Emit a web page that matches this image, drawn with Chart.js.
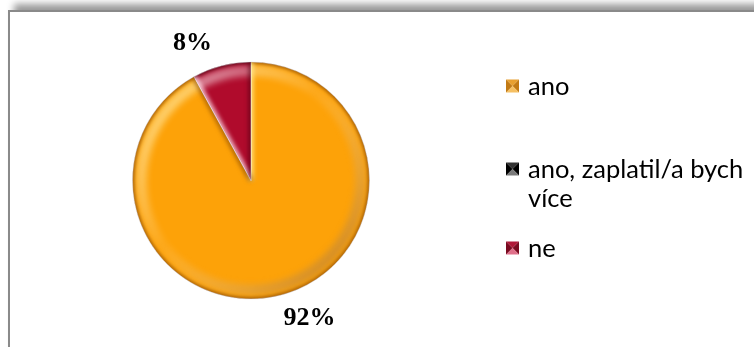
<!DOCTYPE html>
<html>
<head>
<meta charset="utf-8">
<script src="https://cdn.jsdelivr.net/npm/chart.js@4/dist/chart.umd.min.js"></script>
<style>
  html, body { margin: 0; padding: 0; background: #fff; width: 754px; height: 347px; overflow: hidden; }
  #frame {
    position: absolute; left: 8px; top: 10px; width: 800px; height: 400px;
    border-left: 2px solid #8a8a8a; border-top: 2px solid #8a8a8a;
    box-shadow: 6px -6px 7px rgba(0,0,0,0.4);
    background: #fff;
  }
  #wrap { position: absolute; left: 0; top: 0; width: 754px; height: 347px; }
</style>
</head>
<body>
<div id="frame"></div>
<div id="wrap"><canvas id="c" width="754" height="347"></canvas></div>
<script>
// Survey answers and their shares (percent)
const categories = ['ano', 'ano, zaplatil/a bych více', 'ne'];
const shares = [92, 0, 8];

// Slice appearance
const sliceColors = ['#FDA208', '#151515', '#B00B2C'];
const rimLight = ['rgba(255,240,150,0.8)', 'rgba(200,200,200,0.6)', 'rgba(255,225,235,0.85)'];
const rimDark = ['rgba(125,62,0,0.6)', 'rgba(0,0,0,0.6)', 'rgba(70,0,15,0.6)'];
const markerTones = [
  ['#F6C062', '#C27A14', '#E8A030'],
  ['#7a7a7a', '#000000', '#333333'],
  ['#E0708A', '#7A0A20', '#B01838']
];

// Glossy bevel on every slice: soft rim band plus shaded radial edges
const bevel = {
  id: 'bevel',
  afterDatasetsDraw(chart) {
    const ctx = chart.ctx;
    const meta = chart.getDatasetMeta(0);
    meta.data.forEach((arc, i) => {
      const p = arc.getProps(['x', 'y', 'startAngle', 'endAngle', 'outerRadius'], true);
      const { x, y, startAngle, endAngle } = p;
      const r = p.outerRadius;
      if (endAngle - startAngle < 1e-4) return;
      ctx.save();
      ctx.beginPath();
      ctx.moveTo(x, y);
      ctx.arc(x, y, r, startAngle, endAngle);
      ctx.closePath();
      ctx.clip();

      ctx.filter = 'blur(3px)';
      const lg = ctx.createLinearGradient(x - r, y - r, x + r, y + r);
      lg.addColorStop(0, rimLight[i]);
      lg.addColorStop(0.45, 'rgba(255,255,255,0.08)');
      lg.addColorStop(1, rimDark[i]);
      ctx.lineWidth = r * 0.09;
      ctx.strokeStyle = lg;
      ctx.beginPath();
      ctx.arc(x, y, r * 0.925, 0, Math.PI * 2);
      ctx.stroke();

      ctx.filter = 'blur(1.5px)';
      ctx.lineWidth = 4;
      ctx.strokeStyle = rimDark[i];
      ctx.beginPath();
      ctx.arc(x, y, r, 0, Math.PI * 2);
      ctx.stroke();

      // radial edges: light on the leading edge, dark on the trailing edge
      ctx.filter = 'blur(2px)';
      ctx.lineWidth = 5;
      ctx.strokeStyle = rimLight[i];
      ctx.beginPath();
      ctx.moveTo(x, y);
      ctx.lineTo(x + Math.cos(startAngle) * r, y + Math.sin(startAngle) * r);
      ctx.stroke();
      ctx.strokeStyle = rimDark[i];
      ctx.beginPath();
      ctx.moveTo(x, y);
      ctx.lineTo(x + Math.cos(endAngle) * r, y + Math.sin(endAngle) * r);
      ctx.stroke();
      ctx.restore();
    });
  }
};

// Percentage labels outside the pie
const percentLabels = {
  id: 'percentLabels',
  afterDatasetsDraw(chart) {
    const ctx = chart.ctx;
    const meta = chart.getDatasetMeta(0);
    const values = chart.data.datasets[0].data;
    const total = values.reduce((a, b) => a + b, 0);
    const angleShift = -0.15;
    const gap = 31;
    ctx.save();
    ctx.font = 'bold 26px "Liberation Serif", "Times New Roman", serif';
    ctx.fillStyle = '#000';
    ctx.textAlign = 'center';
    ctx.textBaseline = 'middle';
    meta.data.forEach((arc, i) => {
      if (!values[i]) return;
      const p = arc.getProps(['x', 'y', 'startAngle', 'endAngle', 'outerRadius'], true);
      const mid = (p.startAngle + p.endAngle) / 2 + angleShift;
      const R = p.outerRadius + gap;
      const pct = Math.round(values[i] / total * 100) + '%';
      ctx.fillText(pct, p.x + Math.cos(mid) * R, p.y + Math.sin(mid) * R);
    });
    ctx.restore();
  }
};

// Legend on the right with wrapped entries and pyramid markers
const sideLegend = {
  id: 'sideLegend',
  afterDraw(chart) {
    const ctx = chart.ctx;
    const labels = chart.data.labels;
    const markerX = 506, textX = 528, maxWidth = 224;
    const lineHeight = 29, markerSize = 13;
    const gaps = [54, 21];
    let yc = 86;
    ctx.save();
    ctx.font = '25.5px Lato, "Open Sans", sans-serif';
    ctx.fillStyle = '#000';
    ctx.textBaseline = 'middle';
    labels.forEach((label, i) => {
      // word wrap
      const words = label.split(' ');
      const lines = [];
      let cur = '';
      words.forEach(w => {
        const test = cur ? cur + ' ' + w : w;
        if (ctx.measureText(test).width > maxWidth && cur) { lines.push(cur); cur = w; }
        else cur = test;
      });
      if (cur) lines.push(cur);

      // pyramid marker
      const t = markerTones[i];
      const x0 = markerX, y0 = yc - markerSize / 2, s = markerSize;
      const cx = x0 + s / 2, cy = y0 + s / 2;
      const tri = (ax, ay, bx, by, col) => {
        ctx.fillStyle = col;
        ctx.beginPath(); ctx.moveTo(ax, ay); ctx.lineTo(bx, by); ctx.lineTo(cx, cy); ctx.closePath(); ctx.fill();
      };
      tri(x0, y0, x0 + s, y0, t[2]);
      tri(x0 + s, y0, x0 + s, y0 + s, t[1]);
      tri(x0 + s, y0 + s, x0, y0 + s, t[0]);
      tri(x0, y0 + s, x0, y0, t[1]);

      ctx.fillStyle = '#000';
      lines.forEach((ln, k) => ctx.fillText(ln, textX, yc + k * lineHeight + 1));
      yc += lines.length * lineHeight + (gaps[i] || 0);
    });
    ctx.restore();
  }
};

new Chart(document.getElementById('c'), {
  type: 'pie',
  data: {
    labels: categories,
    datasets: [{
      data: shares,
      backgroundColor: sliceColors,
      borderColor: 'rgba(235,235,240,0.9)',
      borderWidth: 1
    }]
  },
  options: {
    responsive: false,
    animation: false,
    layout: { padding: { left: 132, right: 384, top: 61, bottom: 47 } },
    plugins: { legend: { display: false }, tooltip: { enabled: false } }
  },
  plugins: [bevel, percentLabels, sideLegend]
});
</script>
</body>
</html>
